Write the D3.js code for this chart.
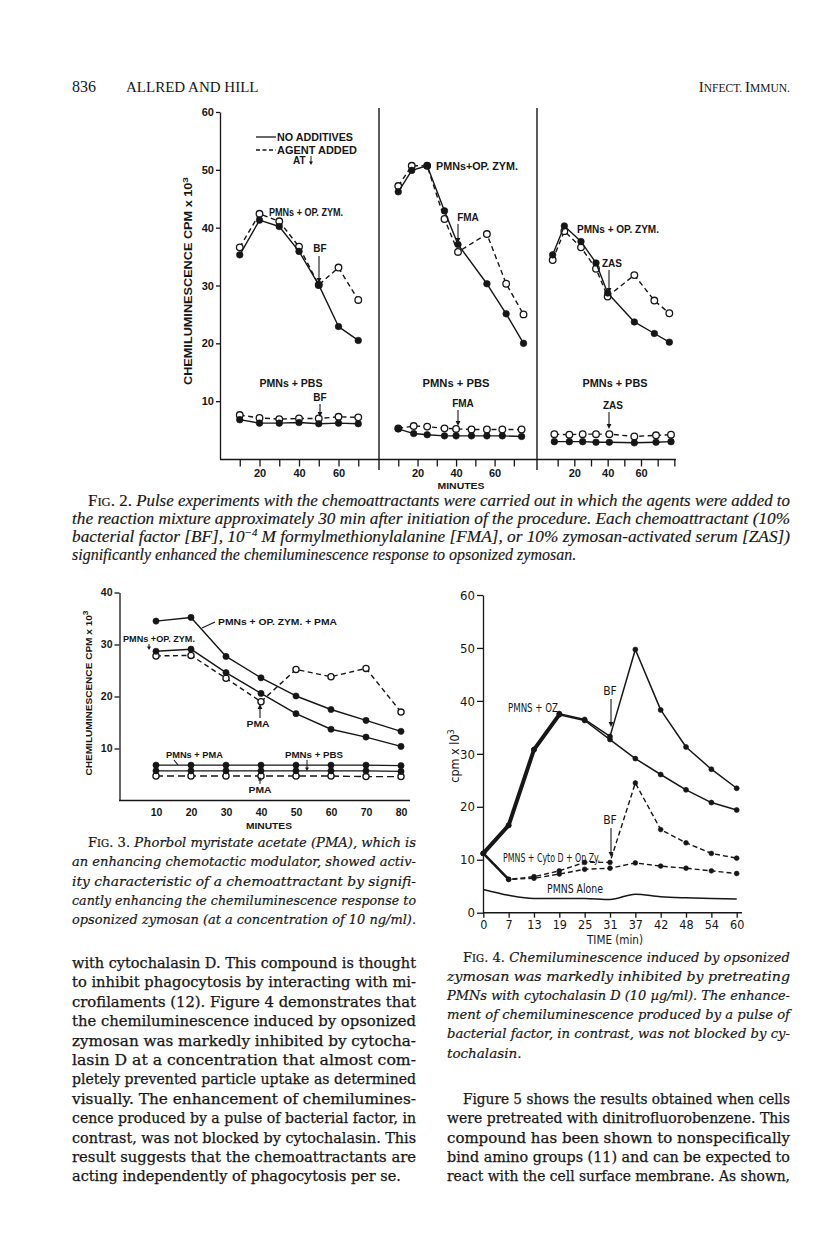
<!DOCTYPE html>
<html><head><meta charset="utf-8">
<script src="https://cdn.jsdelivr.net/npm/d3@7"></script>
<style>
html,body{margin:0;padding:0;background:#fff;}
svg{display:block;}
</style></head>
<body><svg id="page" width="816" height="1253"></svg>
<script>
// ================= DATA =================
// Fig. 2 – left panel (BF)
const f2LeftMin   = [10,20,30,40,50,60,70];
const f2LeftZym   = [35.3,41.3,40.2,35.9,30.1,22.9,20.5];
const f2LeftZymBF = [36.6,42.4,41.1,36.7,30.1,33.1,27.5];
const f2LeftPbs   = [6.8,6.2,6.2,6.3,6.1,6.2,6.1];
const f2LeftPbsBF = [7.6,7.1,6.9,7.0,7.0,7.3,7.2];
// Fig. 2 – middle panel (FMA)
const f2MidMin    = [10,17,25,34,41,56,66,75];
const f2MidZym    = [46.2,49.9,50.7,42.9,37.1,30.3,25.1,20.0];
const f2MidZymFMA = [47.2,50.7,50.7,41.5,35.8,38.9,30.3,25.0];
const f2MidPbsMin = [10,18,25,34,40,48,56,64,74];
const f2MidPbs    = [5.2,4.4,4.2,4.0,4.0,4.0,4.0,4.0,3.9];
const f2MidPbsFMA = [5.3,5.7,5.6,5.3,5.2,5.1,5.1,5.1,5.1];
// Fig. 2 – right panel (ZAS)
const f2RightMin    = [7,14,24,33,40,56,68,77];
const f2RightZym    = [35.3,40.3,37.6,33.9,28.7,23.7,21.7,20.2];
const f2RightZymZAS = [34.4,39.4,36.6,32.9,28.1,31.8,27.4,25.2];
const f2RightPbsMin = [8,17,25,33,41,56,69,78];
const f2RightPbs    = [3.0,3.0,3.0,2.9,2.9,2.8,2.9,3.0];
const f2RightPbsZAS = [4.3,4.2,4.3,4.3,4.3,3.9,4.1,4.2];
const f2YTicks = [10,20,30,40,50,60];
const f2XLabels = [20,40,60];

// Fig. 3
const f3Min       = [10,20,30,40,50,60,70,80];
const f3ZymPMA    = [34.5,35.2,27.7,23.6,20.1,17.5,15.4,13.3];
const f3Zym       = [28.7,29.1,24.6,20.6,16.7,13.7,12.2,10.4];
const f3ZymAddPMA = [27.8,27.9,23.5,19.0,25.2,23.8,25.4,17.0];
const f3PmnPMA    = [6.8,6.8,6.8,6.8,6.8,6.8,6.8,6.7];
const f3PmnPBS    = [5.7,5.7,5.7,5.7,5.7,5.7,5.7,5.6];
const f3PbsAddPMA = [4.7,4.7,4.7,4.7,4.7,4.7,4.6,4.6];
const f3YTicks = [10,20,30,40];
const f3XTicks = [10,20,30,40,50,60,70,80];

// Fig. 4
const f4Times   = ["0","7","13","19","25","31","37","42","48","54","60"];
const f4OZ      = [11.2,16.5,30.8,37.4,36.3,32.7,29.1,26.1,23.2,20.8,19.4];
const f4OZBF    = [11.2,16.5,30.8,37.6,36.5,33.3,49.7,38.3,31.3,27.1,23.5];
const f4Cyto    = [11.2,6.3,6.5,7.3,8.2,8.4,9.4,8.8,8.4,7.9,7.4];
const f4CytoBF  = [11.2,6.3,6.8,7.9,9.5,9.5,24.5,15.7,13.2,11.2,10.3];
const f4Alone   = [4.4,3.3,2.7,2.7,2.7,2.5,3.5,3.0,2.8,2.7,2.6];
const f4YTicks  = [0,10,20,30,40,50,60];

// Text
const cap2 = [
  " Pulse experiments with the chemoattractants were carried out in which the agents were added to",
  "the reaction mixture approximately 30 min after initiation of the procedure. Each chemoattractant (10%",
  "significantly enhanced the chemiluminescence response to opsonized zymosan."
];
const cap3 = [
  " Phorbol myristate acetate (PMA), which is",
  "an enhancing chemotactic modulator, showed activ-",
  "ity characteristic of a chemoattractant by signifi-",
  "cantly enhancing the chemiluminescence response to",
  "opsonized zymosan (at a concentration of 10 ng/ml)."
];
const cap4 = [
  " Chemiluminescence induced by opsonized",
  "zymosan was markedly inhibited by pretreating",
  "PMNs with cytochalasin D (10 µg/ml). The enhance-",
  "ment of chemiluminescence produced by a pulse of",
  "bacterial factor, in contrast, was not blocked by cy-",
  "tochalasin."
];
const bodyLeft = [
  "with cytochalasin D. This compound is thought",
  "to inhibit phagocytosis by interacting with mi-",
  "crofilaments (12). Figure 4 demonstrates that",
  "the chemiluminescence induced by opsonized",
  "zymosan was markedly inhibited by cytocha-",
  "lasin D at a concentration that almost com-",
  "pletely prevented particle uptake as determined",
  "visually. The enhancement of chemilumines-",
  "cence produced by a pulse of bacterial factor, in",
  "contrast, was not blocked by cytochalasin. This",
  "result suggests that the chemoattractants are",
  "acting independently of phagocytosis per se."
];
const bodyRight = [
  "Figure 5 shows the results obtained when cells",
  "were pretreated with dinitrofluorobenzene. This",
  "compound has been shown to nonspecifically",
  "bind amino groups (11) and can be expected to",
  "react with the cell surface membrane. As shown,"
];

// ================= DRAWING =================
const svg = d3.select("#page");
const INK = "#161616";
const F_SERIF = "'DejaVu Serif', serif";
const F_TIMES = "'Liberation Serif', 'Times New Roman', serif";
const F_SANS = "'Liberation Sans', Arial, sans-serif";
const F_NARROW = "'Liberation Sans Narrow', 'DejaVu Sans Condensed', 'Liberation Sans', sans-serif";

function addLine(parent, x, y, segs, o = {}) {
  const t = parent.append("text").attr("x", x).attr("y", y)
    .attr("font-family", o.family || F_SERIF)
    .attr("font-size", o.size || 14.5)
    .attr("fill", INK);
  if (o.italic) t.attr("font-style", "italic");
  if (o.weight) t.attr("font-weight", o.weight);
  if (o.anchor) t.attr("text-anchor", o.anchor);
  if (o.ls) t.attr("letter-spacing", o.ls);
  if (o.stroke) t.attr("stroke", INK).attr("stroke-width", o.stroke);
  if (o.width) t.attr("textLength", o.width).attr("lengthAdjust", o.adjust || "spacingAndGlyphs");
  if (o.rotate) t.attr("transform", `rotate(-90,${x},${y})`);
  segs.forEach(s => {
    if (typeof s === "string") { t.append("tspan").text(s); return; }
    const ts = t.append("tspan").text(s.t);
    if (s.size) ts.attr("font-size", s.size);
    if (s.style) ts.attr("font-style", s.style);
    if (s.dy) ts.attr("dy", s.dy);
    if (s.weight) ts.attr("font-weight", s.weight);
  });
  return t;
}
function arrow(g, x, y1, y2, sw = 1.1, hw = 2.4, hl = 5) {
  const dir = y2 > y1 ? 1 : -1;
  g.append("line").attr("x1", x).attr("x2", x).attr("y1", y1).attr("y2", y2 - dir * (hl - 1))
    .attr("stroke", INK).attr("stroke-width", sw);
  g.append("path").attr("d", `M${x - hw},${y2 - dir * hl}L${x + hw},${y2 - dir * hl}L${x},${y2}Z`).attr("fill", INK);
}
function series(g, xs, ys, xsc, ysc, o = {}) {
  const ln = d3.line().x((d, i) => xsc(xs[i])).y(d => ysc(d));
  if (o.curve) ln.curve(o.curve);
  g.append("path").attr("d", ln(ys)).attr("fill", "none").attr("stroke", INK)
    .attr("stroke-width", o.sw || 1.4).attr("stroke-dasharray", o.dash || null)
    .attr("stroke-linejoin", "round");
  if (o.marker !== false) {
    g.selectAll(null).data(ys).enter().append("circle")
      .attr("cx", (d, i) => xsc(xs[i])).attr("cy", d => ysc(d)).attr("r", o.r || 3.3)
      .attr("fill", o.open ? "#fff" : INK).attr("stroke", INK).attr("stroke-width", o.open ? 1.3 : 0.6);
  }
}
function styleAxis(a, family, size, weight) {
  a.selectAll("path,line").attr("stroke", INK).attr("stroke-width", 1.3);
  a.selectAll("text").attr("fill", INK).attr("font-family", family).attr("font-size", size).attr("font-weight", weight);
  a.attr("font-family", null).attr("font-size", null);
}

// ---------- Header ----------
addLine(svg, 72, 92, ["836"], {family: F_TIMES, size: 16});
addLine(svg, 126, 92, ["ALLRED AND HILL"], {family: F_TIMES, size: 15});
addLine(svg, 790, 92, ["I", {t: "NFECT. ", size: 11.5}, "I", {t: "MMUN.", size: 11.5}], {family: F_TIMES, size: 15, anchor: "end"});

// ---------- Fig. 2 ----------
const g2 = svg.append("g");
const f2y  = d3.scaleLinear().domain([0, 60]).range([459, 112]);
const f2xL = d3.scaleLinear().domain([0, 80.5]).range([220, 379]);
const f2xM = d3.scaleLinear().domain([0, 82]).range([379, 537]);
const f2xR = d3.scaleLinear().domain([0, 81]).range([541, 676]);

const ya2 = g2.append("g").attr("transform", "translate(220,0)")
  .call(d3.axisLeft(f2y).tickValues(f2YTicks).tickSize(4).tickPadding(2).tickSizeOuter(0));
styleAxis(ya2, F_SANS, 11, "bold");
[[f2xL, [10,20,30,40,50,60,70]], [f2xM, [10,20,30,40,50,60,70]], [f2xR, [10,20,30,40,50,60,70,80]]].forEach(([sc, tv]) => {
  const a = g2.append("g").attr("transform", "translate(0,459.5)")
    .call(d3.axisBottom(sc).tickValues(tv).tickSize(7).tickPadding(3)
      .tickFormat(d => f2XLabels.includes(d) ? d : ""));
  a.select(".domain").remove();
  styleAxis(a, F_SANS, 11, "bold");
});
g2.append("line").attr("x1", 220).attr("x2", 676).attr("y1", 459.5).attr("y2", 459.5).attr("stroke", INK).attr("stroke-width", 1.4);
[379, 537].forEach(x => g2.append("line").attr("x1", x).attr("x2", x).attr("y1", 108).attr("y2", 470).attr("stroke", INK).attr("stroke-width", 1.4));

const DASH = "5,3.5";
series(g2, f2LeftMin, f2LeftZymBF, f2xL, f2y, {dash: DASH, open: true});
series(g2, f2LeftMin, f2LeftZym, f2xL, f2y, {});
series(g2, f2LeftMin, f2LeftPbsBF, f2xL, f2y, {dash: DASH, open: true});
series(g2, f2LeftMin, f2LeftPbs, f2xL, f2y, {});
series(g2, f2MidMin, f2MidZymFMA, f2xM, f2y, {dash: DASH, open: true});
series(g2, f2MidMin, f2MidZym, f2xM, f2y, {});
series(g2, f2MidPbsMin, f2MidPbsFMA, f2xM, f2y, {dash: DASH, open: true});
series(g2, f2MidPbsMin, f2MidPbs, f2xM, f2y, {});
series(g2, f2RightMin, f2RightZymZAS, f2xR, f2y, {dash: DASH, open: true});
series(g2, f2RightMin, f2RightZym, f2xR, f2y, {});
series(g2, f2RightPbsMin, f2RightPbsZAS, f2xR, f2y, {dash: DASH, open: true});
series(g2, f2RightPbsMin, f2RightPbs, f2xR, f2y, {});

// legend
g2.append("line").attr("x1", 256).attr("x2", 276).attr("y1", 137).attr("y2", 137).attr("stroke", INK).attr("stroke-width", 1.3);
g2.append("line").attr("x1", 256).attr("x2", 276).attr("y1", 150).attr("y2", 150).attr("stroke", INK).attr("stroke-width", 1.3).attr("stroke-dasharray", "4,2.5");
const lab = {family: F_SANS, size: 10, weight: "bold"};
addLine(g2, 277, 141, ["NO ADDITIVES"], {...lab, width: 76});
addLine(g2, 277, 154, ["AGENT ADDED"], {...lab, width: 80});
addLine(g2, 293, 164, ["AT"], {...lab});
arrow(g2, 311, 156, 165, 1, 2, 3.5);
// panel labels
addLine(g2, 269, 216, ["PMNs + OP. ZYM."], {...lab, width: 74});
addLine(g2, 320, 252, ["BF"], {...lab, anchor: "middle"});
arrow(g2, 319, 256, 283);
addLine(g2, 291, 387, ["PMNs + PBS"], {...lab, anchor: "middle", width: 63});
addLine(g2, 320, 401, ["BF"], {...lab, anchor: "middle"});
arrow(g2, 320, 404, 417);
addLine(g2, 436, 170, ["PMNs+OP. ZYM."], {...lab, width: 82});
addLine(g2, 468, 221, ["FMA"], {...lab, anchor: "middle"});
arrow(g2, 458, 224, 243);
addLine(g2, 456, 387, ["PMNs + PBS"], {...lab, anchor: "middle", width: 67});
addLine(g2, 463, 407, ["FMA"], {...lab, anchor: "middle"});
arrow(g2, 458, 410, 426);
addLine(g2, 577, 233, ["PMNs + OP. ZYM."], {...lab, width: 82});
addLine(g2, 612, 267, ["ZAS"], {...lab, anchor: "middle"});
arrow(g2, 609, 270, 293);
addLine(g2, 615, 387, ["PMNs + PBS"], {...lab, anchor: "middle", width: 65});
addLine(g2, 613, 409, ["ZAS"], {...lab, anchor: "middle"});
arrow(g2, 609, 412, 429);
addLine(g2, 461, 488.5, ["MINUTES"], {...lab, size: 9.5, anchor: "middle", width: 47});
addLine(g2, 192, 281, ["CHEMILUMINESCENCE CPM x 10", {t: "3", size: 8, dy: -4}], {...lab, size: 10, anchor: "middle", rotate: true, width: 208});

// caption 2
const capI = {family: F_TIMES, size: 16, italic: true, stroke: 0.15};
addLine(svg, 88, 505.5, [{t: "F", style: "normal"}, {t: "IG", style: "normal", size: 12}, {t: ". 2.", style: "normal"}, cap2[0]], {...capI, width: 702});
addLine(svg, 72, 523.5, [cap2[1]], {...capI, width: 718});
addLine(svg, 72, 541.5, ["bacterial factor [BF], 10", {t: "−4", size: 10, dy: -6}, {t: " M formylmethionylalanine [FMA], or 10% zymosan-activated serum [ZAS])", dy: 6}], {...capI, width: 718});
addLine(svg, 72, 559.5, [cap2[2]], {...capI});

// ---------- Fig. 3 ----------
const g3 = svg.append("g");
const f3x = d3.scaleLinear().domain([0, 80]).range([121, 401]);
const f3y = d3.scaleLinear().domain([0, 40]).range([800.5, 592.5]);
const ya3 = g3.append("g").attr("transform", "translate(119.5,0)")
  .call(d3.axisLeft(f3y).tickValues(f3YTicks).tickSize(5).tickPadding(2).tickSizeOuter(0));
styleAxis(ya3, F_SANS, 10.5, "bold");
const xa3 = g3.append("g").attr("transform", "translate(0,800.5)")
  .call(d3.axisBottom(f3x).tickValues(f3XTicks).tickSize(0).tickPadding(8));
xa3.select(".domain").remove();
styleAxis(xa3, F_SANS, 10.5, "bold");
g3.append("line").attr("x1", 119).attr("x2", 410).attr("y1", 800.5).attr("y2", 800.5).attr("stroke", INK).attr("stroke-width", 1.4);

series(g3, f3Min, f3ZymAddPMA, f3x, f3y, {dash: DASH, open: true, r: 3.1});
series(g3, f3Min, f3ZymPMA, f3x, f3y, {r: 3.1});
series(g3, f3Min, f3Zym, f3x, f3y, {r: 3.1});
series(g3, f3Min, f3PbsAddPMA, f3x, f3y, {dash: "7,4", open: true, r: 3.1});
series(g3, f3Min, f3PmnPBS, f3x, f3y, {r: 3.1});
series(g3, f3Min, f3PmnPMA, f3x, f3y, {r: 3.1});

const lab3 = {family: F_SANS, size: 9.5, weight: "bold"};
addLine(g3, 218, 625, ["PMNs  + OP. ZYM. + PMA"], {...lab3, width: 119});
g3.append("line").attr("x1", 202).attr("y1", 628).attr("x2", 215).attr("y2", 622).attr("stroke", INK).attr("stroke-width", 1.1);
addLine(g3, 123, 642, ["PMNs +OP. ZYM."], {...lab3, width: 72});
arrow(g3, 149, 644, 650, 1, 2, 3.5);
addLine(g3, 258, 727, ["PMA"], {...lab3, anchor: "middle", width: 23});
arrow(g3, 260, 718, 704);
addLine(g3, 166, 758, ["PMNs + PMA"], {...lab3, width: 57});
g3.append("line").attr("x1", 174).attr("y1", 760).attr("x2", 178).attr("y2", 765).attr("stroke", INK).attr("stroke-width", 1.1);
addLine(g3, 285, 758, ["PMNs + PBS"], {...lab3, width: 58});
arrow(g3, 307, 760, 771, 1, 2, 3.5);
addLine(g3, 260, 793, ["PMA"], {...lab3, anchor: "middle", width: 23});
arrow(g3, 260, 784, 777, 1, 2, 3.5);
addLine(g3, 269, 829, ["MINUTES"], {...lab3, anchor: "middle", width: 46});
addLine(g3, 92, 693, ["CHEMILUMINESCENCE CPM x 10", {t: "3", size: 7.5, dy: -4}], {...lab3, size: 9, anchor: "middle", rotate: true, width: 165});

// caption 3
const capB = {family: F_SERIF, size: 13.5, italic: true, stroke: 0.2};
addLine(svg, 88, 847, [{t: "F", style: "normal"}, {t: "IG", style: "normal", size: 10.5}, {t: ". 3.", style: "normal"}, cap3[0]], {...capB, width: 328});
for (let i = 1; i < cap3.length; i++) addLine(svg, 72, 847 + 19.3 * i, [cap3[i]], {...capB, width: 344});

// body left
bodyLeft.forEach((s, i) => addLine(svg, 72, 968 + 19.4 * i, [s], {family: F_SERIF, size: 14.5, stroke: 0.25, width: i < bodyLeft.length - 1 ? 344 : null}));

// ---------- Fig. 4 ----------
const g4 = svg.append("g");
const f4x = d3.scalePoint().domain(f4Times).range([483.3, 736.7]);
const f4y = d3.scaleLinear().domain([0, 60]).range([912.7, 595]);
const ya4 = g4.append("g").attr("transform", "translate(483,0)")
  .call(d3.axisLeft(f4y).tickValues(f4YTicks).tickSize(6).tickPadding(2).tickSizeOuter(0));
styleAxis(ya4, F_NARROW, 13, "normal");
const xa4 = g4.append("g").attr("transform", "translate(0,912.7)")
  .call(d3.axisBottom(f4x).tickSize(5).tickPadding(2));
xa4.select(".domain").remove();
styleAxis(xa4, F_NARROW, 12.5, "normal");
g4.append("line").attr("x1", 483).attr("x2", 742).attr("y1", 912.7).attr("y2", 912.7).attr("stroke", INK).attr("stroke-width", 1.4);

series(g4, f4Times, f4Alone, f4x, f4y, {marker: false, curve: d3.curveMonotoneX, sw: 1.5});
series(g4, f4Times, f4Cyto, f4x, f4y, {dash: "5,3", r: 2.4});
series(g4, f4Times, f4CytoBF, f4x, f4y, {dash: "5,3", r: 2.4});
series(g4, f4Times, f4OZ, f4x, f4y, {r: 2.5, sw: 1.5});
series(g4, f4Times, f4OZBF, f4x, f4y, {r: 2.5, sw: 1.5});
// heavy overlap segment of the two OZ curves (first points)
series(g4, f4Times.slice(0, 4), f4OZ.slice(0, 4), f4x, f4y, {marker: false, sw: 4});
series(g4, f4Times.slice(0, 2), f4Cyto.slice(0, 2), f4x, f4y, {marker: false, sw: 2.5});

const lab4 = {family: F_NARROW, size: 12};
addLine(g4, 508, 712, ["PMNS + OZ"], {...lab4, width: 50});
addLine(g4, 610, 695, ["BF"], {...lab4, anchor: "middle"});
arrow(g4, 611, 699, 727);
addLine(g4, 610, 824, ["BF"], {...lab4, anchor: "middle"});
arrow(g4, 611, 828, 857);
addLine(g4, 503, 862, ["PMNS + Cyto D + Op Zy."], {...lab4, width: 97});
addLine(g4, 547, 893, ["PMNS Alone"], {...lab4, width: 56});
addLine(g4, 615, 944, ["TIME (min)"], {...lab4, anchor: "middle", width: 56});
addLine(g4, 459, 756, ["cpm x l0", {t: "3", size: 9, dy: -5}], {...lab4, size: 12.5, anchor: "middle", rotate: true});

// caption 4
addLine(svg, 463, 962, [{t: "F", style: "normal"}, {t: "IG", style: "normal", size: 10.5}, {t: ". 4.", style: "normal"}, cap4[0]], {...capB, width: 327});
for (let i = 1; i < cap4.length; i++) addLine(svg, 447, 962 + 19.1 * i, [cap4[i]], {...capB, width: i < cap4.length - 1 ? 343 : null});

// body right
bodyRight.forEach((s, i) => addLine(svg, i === 0 ? 463 : 447, 1104 + 19.3 * i, [s], {family: F_SERIF, size: 14.5, stroke: 0.25, width: i === 0 ? 327 : 343}));
</script></body></html>
